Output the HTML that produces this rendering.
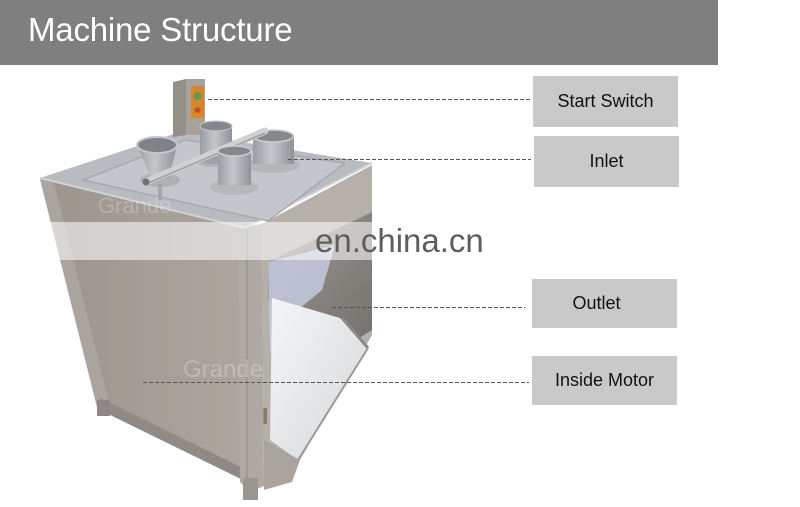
<!DOCTYPE html>
<html><head><meta charset="utf-8"><style>
html,body{margin:0;padding:0;background:#fff;}
#wrap{position:relative;width:800px;height:507px;overflow:hidden;background:#fff;font-family:"Liberation Sans",Arial,sans-serif;}
.hdr{position:absolute;left:0;top:0;width:718px;height:65px;background:#7f7f7f;}
.hdr span{position:absolute;left:28px;top:11px;font-size:33px;color:#fff;letter-spacing:-0.2px;}
.box{position:absolute;background:#c9c9c9;color:#111;font-size:18px;display:flex;align-items:center;justify-content:center;}
svg{position:absolute;left:0;top:0;}
</style></head><body><div id="wrap">
<div class="hdr"><span>Machine Structure</span></div>
<svg width="800" height="507" viewBox="0 0 800 507">
<defs>
<linearGradient id="lf" x1="0" y1="0" x2="1" y2="0">
<stop offset="0" stop-color="#9b958e"/><stop offset="0.6" stop-color="#a59f98"/><stop offset="1" stop-color="#aca69f"/>
</linearGradient>
<linearGradient id="tray" x1="0" y1="0" x2="1" y2="1">
<stop offset="0" stop-color="#f4f5f6"/><stop offset="1" stop-color="#d6d8da"/>
</linearGradient>
<linearGradient id="cyl" x1="0" y1="0" x2="1" y2="0">
<stop offset="0" stop-color="#9a9ea2"/><stop offset="0.45" stop-color="#c4c7ca"/><stop offset="1" stop-color="#8f9397"/>
</linearGradient>
<linearGradient id="dark" x1="0" y1="0" x2="1" y2="1">
<stop offset="0" stop-color="#9c9894"/><stop offset="1" stop-color="#75716d"/>
</linearGradient>
</defs>
<!-- left face -->
<polygon points="40,179 245,228 247,480 97,407" fill="url(#lf)"/>
<polygon points="40,179 54,183 110,407 97,407" fill="#aaa59e"/>
<polygon points="100,398 247,470 247,482 100,410" fill="#8f8a84"/>
<rect x="97" y="400" width="13" height="16" fill="#8d8883"/>
<!-- right face -->
<polygon points="262,224 372,165 372,335 300,460 264,488" fill="#b5b0aa"/>
<polygon points="268,262 372,212 372,330 348,345 290,305 268,300" fill="url(#dark)"/>
<polygon points="268,262 335,245 322,290 288,318 282,385 270,350" fill="#c4c9de" opacity="0.85"/>
<polygon points="272,298 340,318 368,348 298,460 270,440" fill="url(#tray)"/>
<line x1="342" y1="318" x2="368" y2="348" stroke="#8a8a8a" stroke-width="3"/>
<line x1="368" y1="348" x2="298" y2="460" stroke="#9a9a9a" stroke-width="2"/>
<polygon points="264,440 300,460 292,482 264,490" fill="#a9a49e"/>
<rect x="259" y="408" width="8" height="16" fill="#8a7a6a"/>
<!-- front post -->
<polygon points="238,228 262,224 264,486 250,492 240,482" fill="#aea9a2"/>
<line x1="247" y1="230" x2="247" y2="485" stroke="#8f8a85" stroke-width="1"/>
<rect x="243" y="478" width="15" height="22" fill="#9a958f"/>
<!-- top -->
<polygon points="40,178 180,132 372,163 245,228" fill="#b8bbbf"/>
<polyline points="40,178 245,228 372,163" fill="none" stroke="#d0d2d4" stroke-width="2"/>
<polygon points="83,180 185,140 345,163 268,221" fill="#c3c6ca" stroke="#a6a9ad" stroke-width="1.5"/>
<!-- switch box -->
<polygon points="173,82 186,79 186,135 173,137" fill="#948f89"/>
<rect x="186" y="79" width="19" height="56" fill="#a7a29c"/>
<rect x="191" y="86" width="13" height="32" fill="#d6862c"/>
<circle cx="197.5" cy="96" r="4" fill="#5f9a4c"/>
<circle cx="197.5" cy="110" r="3" fill="#c0502a"/>
<!-- back cylinder -->
<ellipse cx="216" cy="160" rx="22" ry="7" fill="#b0b3b6"/>
<rect x="200" y="126" width="32" height="34" fill="url(#cyl)"/>
<ellipse cx="216" cy="160" rx="16" ry="4" fill="#9ea2a6"/>
<ellipse cx="216" cy="126" rx="16" ry="5" fill="#85898d" stroke="#c8cbce"/>
<!-- funnel -->
<ellipse cx="160" cy="180" rx="20" ry="7" fill="#aeb1b4"/>
<polygon points="137,145 177,145 169,178 151,178" fill="url(#cyl)"/>
<ellipse cx="157" cy="145" rx="20" ry="8" fill="#7f8387" stroke="#c6c9cc" stroke-width="2"/>
<!-- right cylinder -->
<ellipse cx="273" cy="165" rx="27" ry="8" fill="#b4b7ba"/>
<rect x="253" y="136" width="41" height="28" fill="url(#cyl)"/>
<ellipse cx="273" cy="136" rx="20.5" ry="6" fill="#85898d" stroke="#cdd0d3" stroke-width="1.5"/>
<!-- rod -->
<line x1="146" y1="182" x2="265" y2="131" stroke="#cfd1d3" stroke-width="7" stroke-linecap="round"/>
<line x1="146" y1="184" x2="265" y2="133" stroke="#9ea1a4" stroke-width="1.5"/>
<circle cx="146" cy="182" r="3.5" fill="#6e7276"/>
<rect x="158" y="184" width="4" height="16" fill="#a4a7aa"/>
<!-- front cylinder -->
<ellipse cx="234" cy="187" rx="24" ry="8" fill="#b6b9bc"/>
<rect x="218" y="151" width="33" height="34" fill="url(#cyl)"/>
<ellipse cx="234.5" cy="151" rx="16.5" ry="5" fill="#85898d" stroke="#cdd0d3" stroke-width="1.5"/>
<!-- faint watermark -->
<text x="98" y="213" font-family="Liberation Sans, sans-serif" font-size="22" fill="#ffffff" opacity="0.22">Grande</text>
<text x="183" y="377" font-family="Liberation Sans, sans-serif" font-size="24" fill="#ffffff" opacity="0.25">Grande</text>
<!-- band -->
<rect x="50" y="222" width="350" height="38" fill="#ffffff" opacity="0.55"/>
<text x="315" y="252" font-family="Liberation Sans, Arial, sans-serif" font-size="33" fill="#5e5e5e">en.china.cn</text>
<!-- dashed connectors -->
<g stroke="#555" stroke-width="1" stroke-dasharray="4,2" fill="none">
<line x1="208" y1="99.5" x2="531" y2="99.5"/>
<line x1="288" y1="159.5" x2="531" y2="159.5"/>
<line x1="332" y1="307.5" x2="525" y2="307.5"/>
<line x1="143" y1="382.5" x2="529" y2="382.5"/>
</g>
</svg>
<div class="box" style="left:533px;top:76px;width:145px;height:51px;">Start Switch</div>
<div class="box" style="left:534px;top:136px;width:145px;height:51px;">Inlet</div>
<div class="box" style="left:532px;top:279px;width:145px;height:49px;"><span style="margin-right:16px">Outlet</span></div>
<div class="box" style="left:532px;top:356px;width:145px;height:49px;">Inside Motor</div>
</div></body></html>
